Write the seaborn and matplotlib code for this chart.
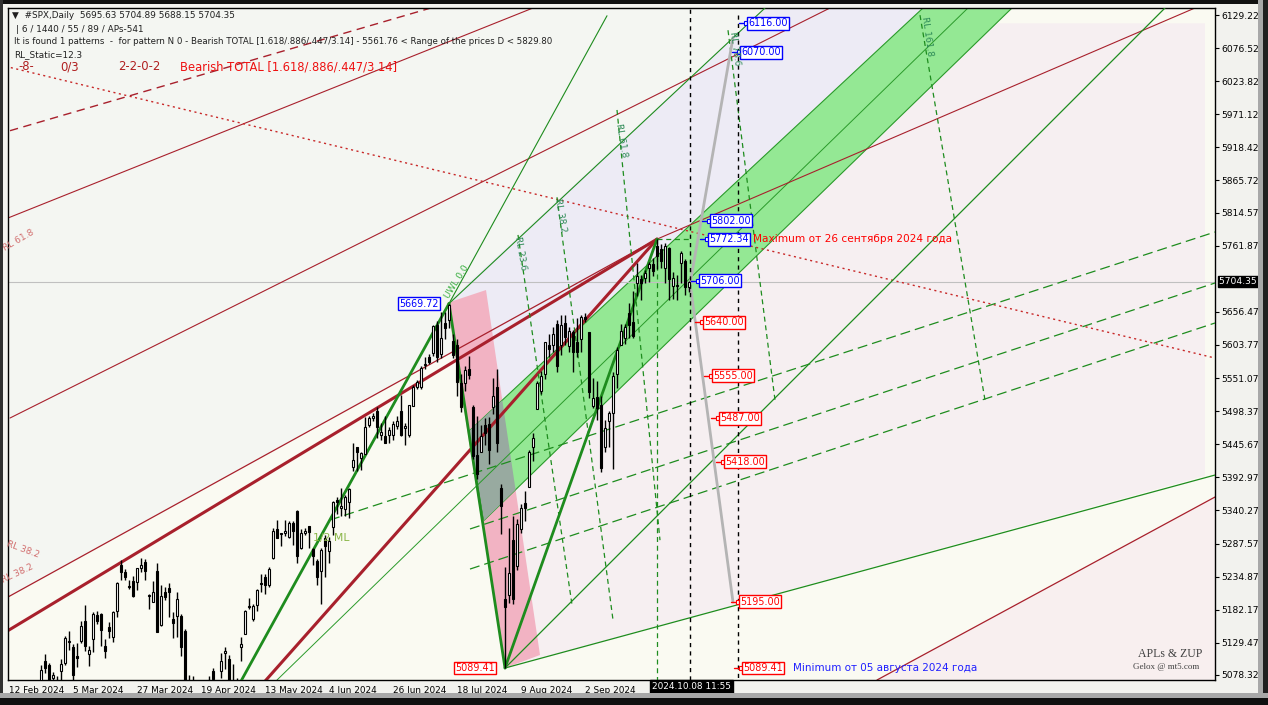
import numpy as np
import pandas as pd
import matplotlib
matplotlib.use("Agg")
import matplotlib.pyplot as plt
import seaborn as sns
from matplotlib.patches import Polygon, Rectangle

# ---------------- data ----------------
o = [5026,4967,4976,5004,5032,5006,4990,4963,5039,5100,5094,5074,5068,5085,5098,5131,5123,5109,5133,5164,
     5112,5135,5174,5175,5124,5155,5139,5181,5254,5242,5219,5228,5226,5249,5258,5204,5194,5244,5158,5211,
     5217,5167,5172,5172,5149,5064,5068,5032,5005,4988,5029,5085,5019,5084,5114,5103,5029,5050,5123,5143,
     5187,5168,5189,5225,5234,5221,5264,5310,5303,5305,5298,5320,5340,5281,5305,5316,5279,5260,5244,5297,
     5275,5314,5357,5344,5342,5353,5410,5441,5424,5430,5477,5487,5499,5460,5459,5461,5460,5474,5498,5472,
     5461,5507,5537,5537,5572,5584,5591,5636,5590,5638,5644,5610,5603,5543,5544,5565,5505,5428,5434,5477,
     5478,5505,5537,5376,5200,5206,5294,5252,5310,5352,5377,5442,5502,5530,5558,5603,5603,5637,5603,5639,
     5602,5624,5608,5613,5648,5624,5506,5521,5508,5442,5483,5496,5558,5604,5615,5655,5641,5702,5709,5711,
     5727,5733,5762,5756,5727,5758,5697,5698,5734,5737,5695.63]
h = [5048,4971,5003,5032,5039,5012,4994,4984,5094,5111,5097,5083,5077,5104,5140,5149,5127,5130,5165,5189,
     5125,5179,5180,5177,5136,5162,5180,5226,5262,5247,5229,5236,5249,5264,5263,5208,5228,5256,5222,5219,
     5225,5179,5211,5175,5151,5079,5077,5052,5019,5038,5077,5089,5058,5114,5123,5110,5096,5073,5139,5182,
     5201,5192,5215,5239,5239,5251,5312,5325,5305,5325,5324,5323,5341,5311,5312,5315,5280,5263,5280,5302,
     5298,5355,5362,5376,5365,5376,5448,5442,5433,5489,5490,5496,5505,5479,5490,5473,5483,5491,5524,5480,
     5509,5540,5548,5571,5584,5590,5636,5642,5656,5656,5669.72,5622,5614,5558,5570,5586,5509,5491,5476,5487,
     5489,5552,5566,5383,5250,5312,5331,5327,5351,5371,5436,5463,5546,5563,5609,5621,5633,5643,5651,5651,
     5632,5627,5646,5651,5655,5625,5552,5546,5522,5484,5498,5560,5600,5637,5637,5671,5689,5734,5716,5723,
     5736,5742,5772.34,5764,5766,5760,5720,5715,5754,5740,5704.89]
l = [5016,4920,4948,4999,4996,5000,4955,4946,5039,5082,5068,5058,5056,5061,5094,5118,5061,5091,5129,5117,
     5092,5115,5160,5125,5105,5138,5131,5171,5230,5229,5216,5203,5213,5243,5230,5184,5194,5146,5157,5197,
     5170,5138,5139,5108,5053,5039,5008,5000,4953,4969,5028,5047,5002,5074,5088,5035,5011,5011,5101,5143,
     5183,5164,5180,5210,5207,5219,5263,5297,5284,5300,5297,5286,5257,5279,5302,5281,5254,5222,5191,5234,
     5257,5302,5335,5331,5331,5328,5403,5403,5404,5430,5473,5482,5456,5453,5447,5447,5452,5470,5459,5445,
     5458,5507,5533,5533,5565,5574,5586,5576,5583,5613,5631,5583,5523,5497,5530,5550,5422,5390,5433,5445,
     5414,5494,5434,5303,5089.41,5193,5191,5245,5305,5324,5377,5419,5502,5526,5550,5585,5592,5560,5588,5603,
     5593,5561,5585,5593,5640,5520,5504,5485,5402,5434,5442,5406,5536,5604,5605,5615,5615,5682,5675,5703,
     5704,5714,5724,5727,5703,5675,5677,5675,5703,5683,5688.15]
c = [5022,4953,5001,5030,5006,5004,4976,4982,5087,5089,5070,5078,5070,5096,5137,5131,5079,5105,5157,5124,
     5118,5175,5165,5150,5117,5149,5179,5225,5242,5234,5218,5204,5248,5254,5244,5206,5211,5147,5204,5202,
     5210,5161,5199,5123,5062,5051,5022,5011,4967,5011,5071,5072,5048,5100,5116,5036,5018,5064,5128,5181,
     5188,5188,5214,5223,5221,5247,5308,5297,5303,5308,5321,5307,5268,5305,5308,5306,5267,5235,5278,5283,
     5291,5354,5353,5347,5361,5375,5421,5434,5432,5473,5487,5490,5473,5465,5448,5469,5478,5483,5460,5475,
     5509,5537,5545,5567,5573,5577,5634,5585,5615,5631,5667,5588,5545,5505,5564,5556,5427,5399,5459,5464,
     5436,5522,5447,5347,5186,5240,5200,5319,5344,5344,5434,5455,5543,5554,5608,5597,5621,5571,5635,5617,
     5626,5592,5592,5648,5645,5529,5520,5503,5408,5471,5496,5554,5596,5626,5633,5635,5618,5714,5703,5719,
     5733,5722,5745,5738,5762,5709,5710,5700,5751,5696,5704.35]

date_ticks = [0, 16, 32, 48, 64, 80, 96, 112, 128, 144]
date_labels = ["12 Feb 2024", "5 Mar 2024", "27 Mar 2024", "19 Apr 2024", "13 May 2024",
               "4 Jun 2024", "26 Jun 2024", "18 Jul 2024", "9 Aug 2024", "2 Sep 2024"]
price_ticks = [6129.22, 6076.52, 6023.82, 5971.12, 5918.42, 5865.72, 5814.57, 5761.87,
               5656.47, 5603.77, 5551.07, 5498.37, 5445.67, 5392.97, 5340.27, 5287.57,
               5234.87, 5182.17, 5129.47, 5078.32]
last_price = 5704.35

# target price labels (value, bar position of label, colour)
tgt_price = [6116.00, 6070.00, 5802.00, 5772.34, 5706.00, 5640.00, 5555.00, 5487.00, 5418.00, 5195.00, 5089.41]
tgt_pos = [184.75, 183.0, 175.5, 175.0, 172.75, 173.75, 176.0, 177.75, 179.0, 182.75, 183.5]
tgt_col = ["#0000ff"] * 5 + ["#ff0000"] * 6

# pattern anchor points (bar index, price)
pk1 = (110, 5669.72)   # 16 Jul high
lo1 = (124, 5089.41)   # 5 Aug low
pk2 = (162, 5772.34)   # 26 Sep high
band_x = [115.0, 228.5, 250.75, 118.75]
band_y = [5466.5, 6140.4, 6140.4, 5324.5]
mid_x = [67.0, 239.75]
mid_y = [5070.3, 6140.4]
strip_x = [109.5, 119.25, 132.75, 124.0]
strip_y = [5670.6, 5691.3, 5110.1, 5089.41]
lav_x = [109.5, 189.0, 228.5, 115.0]
lav_y = [5670.6, 6140.4, 6140.4, 5466.5]
pale_x = [-0.25, 162, 172.75, 228.5, -0.25]
pale_y = [5202.5, 5772.34, 5801, 6140.4, 6140.4]
pinkr_x = [124, 132.75, 118.75, 246.75, 299.0, 299.0]
pinkr_y = [5089.41, 5110, 5324.5, 6116, 6116, 5395.6]
pinkb_x = [217, 301.5, 301.5]
pinkb_y = [5070.34, 5361.7, 5070.34]

# ---------------- figure ----------------
sns.set_style("white")
plt.rcParams["font.family"] = ["DejaVu Sans"]
W, H = 1268, 705
fig = plt.figure(figsize=(W / 100, H / 100), dpi=100, facecolor="#f2f2ee")
ax = fig.add_axes([8 / W, 1 - 680 / H, (1215 - 8) / W, 672 / H])
ax.set_facecolor("#fafaf2")
ax.set_xlim(-0.25, 301.5)
ax.set_ylim(5070.34, 6140.37)

# soft regions
ax.add_patch(Polygon(list(zip(pale_x, pale_y)), closed=True, facecolor="#f4f6f2", edgecolor="none", zorder=0))
ax.add_patch(Polygon(list(zip(pinkr_x, pinkr_y)), closed=True, facecolor="#f6eff1", edgecolor="none", zorder=0.1))
ax.add_patch(Polygon(list(zip(pinkb_x, pinkb_y)), closed=True, facecolor="#f8efef", edgecolor="none", zorder=0.1))
ax.add_patch(Polygon(list(zip(lav_x, lav_y)), closed=True, facecolor="#edebf5", edgecolor="none", zorder=0.2))

# pink strip, green band, overlap
strip = Polygon(list(zip(strip_x, strip_y)), closed=True, facecolor="#f2b3c3", edgecolor="none", zorder=1)
ax.add_patch(strip)
band = Polygon(list(zip(band_x, band_y)), closed=True, facecolor="#94e894", edgecolor="#2a9a2a", lw=0.8, zorder=1)
ax.add_patch(band)
over = Polygon(list(zip(band_x, band_y)), closed=True, facecolor="#98aaa0", edgecolor="none", zorder=1.1)
ax.add_patch(over)
over.set_clip_path(strip)
ax.plot(mid_x, mid_y, color="#2a9a2a", lw=0.7, zorder=1.2)

# current price line
ax.axhline(last_price, color="#c0c0c0", lw=0.8, zorder=1.3)

# red lines
dr = "#a8202c"
ax.plot([-0.25, 162], [5202.5, 5772.34], color=dr, lw=0.9, zorder=2)
ax.plot([-0.25, 162], [5149, 5772.34], color=dr, lw=2.2, zorder=2)
ax.plot([56, 162], [5011, 5772.34], color=dr, lw=2.2, zorder=2)
ax.plot([162, 300], [5772.34, 6150], color=dr, lw=0.8, zorder=2)
ax.plot([0.25, 205.25], [5487.5, 6140.4], color=dr, lw=0.8, zorder=2)
ax.plot([-0.25, 131.0], [5806, 6140.4], color=dr, lw=0.8, zorder=2)
ax.plot([-2.25, 301.5], [6049.6, 5583], color="#c82828", lw=1.0, ls=(0, (1.5, 2.5)), zorder=2)
ax.plot([217, 301.5], [5070.34, 5361.7], color=dr, lw=0.9, zorder=2)
ax.plot([0.25, 105.25], [5945, 6140], color=dr, lw=1.0, ls=(0, (6, 4)), zorder=2)

# green lines
g = "#1e8c1e"
sns.lineplot(x=[48, pk1[0]], y=[4953, pk1[1]], ax=ax, color=g, lw=2.0, sort=False, estimator=None, zorder=3)
sns.lineplot(x=[pk1[0], lo1[0]], y=[pk1[1], lo1[1]], ax=ax, color=g, lw=2.0, sort=False, estimator=None, zorder=3)
sns.lineplot(x=[lo1[0], pk2[0]], y=[lo1[1], pk2[1]], ax=ax, color=g, lw=2.0, sort=False, estimator=None, zorder=3)
ax.plot([pk1[0], 149.5], [pk1[1], 6128], color=g, lw=0.8, zorder=3)
ax.plot([lo1[0], 301.5], [lo1[1], 5396.7], color=g, lw=0.9, zorder=3)
ax.plot([lo1[0], 289.0], [lo1[1], 6140.4], color=g, lw=0.9, zorder=3)
ax.plot([pk1[0], 189.0], [pk1[1], 6140.4], color=g, lw=0.8, zorder=3)
# dashed median-type lines
for (x0, y0, x1, y1) in [(80.25, 5325.1, 301.5, 5783.7), (115.25, 5310.8, 301.5, 5702.5),
                         (115.25, 5247.0, 301.5, 5638.8)]:
    ax.plot([x0, x1], [y0, y1], color=g, lw=0.9, ls=(0, (8, 4)), zorder=3)
# steep dashed RL lines
for (x0, y0, x1, y1) in [(127.25, 5779, 140.75, 5190), (137.0, 5839, 151.0, 5166),
                         (152.0, 5978, 162.75, 5293), (179.75, 6105, 191.5, 5516), (227.75, 6129, 244.0, 5516)]:
    ax.plot([x0, x1], [y0, y1], color=g, lw=0.9, ls=(0, (4, 3)), zorder=3)
ax.plot([162, 162], [5772.34, 5070.34], color=g, lw=0.9, ls=(0, (4, 3)), zorder=3)
ax.plot([162, 170.25], [5772.34, 5772.34], color=g, lw=0.9, ls=(0, (4, 3)), zorder=3)

# projection lines
ax.plot([170, 181], [5691.4, 6093.4], color="#b4b4b4", lw=2, zorder=3)
ax.plot([170.5, 181], [5691.4, 5194.5], color="#b4b4b4", lw=2, zorder=3)
ax.axvline(170.25, color="black", lw=1, ls=(0, (3, 3)), zorder=3)
ax.plot([182.25, 182.25], [6129, 5070.34], color="black", lw=1, ls=(0, (3, 3)), zorder=3)

# ---------------- candles ----------------
df = pd.DataFrame({"o": o, "h": h, "l": l, "c": c})
df["i"] = np.arange(len(df))
up = df["c"] >= df["o"]
ax.vlines(df["i"], df["l"], df["h"], color="black", lw=1.0, zorder=4)
body = (df["c"] - df["o"]).abs().clip(lower=1.5)
ax.bar(df["i"][up], body[up], bottom=df["o"][up], width=0.7, facecolor="white", edgecolor="black", lw=0.8, zorder=5)
ax.bar(df["i"][~up], body[~up], bottom=df["c"][~up], width=0.7, facecolor="black", edgecolor="black", lw=0.8, zorder=5)

# ---------------- price labels ----------------
for p, x, col in zip(tgt_price, tgt_pos, tgt_col):
    ax.plot([x - 2.2, x - 0.6], [p, p], color=col, lw=1, zorder=6)
    ax.plot([x - 0.5], [p], marker="s", ms=3, mfc="white", mec=col, mew=0.8, zorder=6)
    ax.text(x, p, f"{p:.2f}", color=col, fontsize=6.9, va="center", ha="left", zorder=7,
            bbox=dict(boxstyle="square,pad=0.15", fc="white", ec=col, lw=1))
ax.text(186.0, 5772.34, "Maximum от 26 сентября 2024 года", color="#ff0000", fontsize=7.6, va="center", ha="left", zorder=7)
ax.text(196.0, 5089.41, "Minimum от 05 августа 2024 года", color="#2020ff", fontsize=7.5, va="center", ha="left", zorder=7)
ax.text(107.5, 5669.72, "5669.72", color="#0000ff", fontsize=6.9, va="center", ha="right", zorder=7,
        bbox=dict(boxstyle="square,pad=0.15", fc="white", ec="#0000ff", lw=1))
ax.text(121.5, 5089.41, "5089.41", color="#ff0000", fontsize=6.9, va="center", ha="right", zorder=7,
        bbox=dict(boxstyle="square,pad=0.15", fc="white", ec="#ff0000", lw=1))

# rotated level captions
cap = [(112.0, 5705, "UWL 0.0", 58, "#3cb043", 6.5), (80.5, 5297, "1/2 ML", 0, "#8ab648", 7.8),
       (127.75, 5750, "RL 23.6", -80, "#2e8b57", 6.5), (137.75, 5810, "RL 38.2", -80, "#2e8b57", 6.5),
       (153.0, 5930, "RL 61.8", -80, "#2e8b57", 6.5), (181.5, 6075, "RL 78.6", -82, "#2e8b57", 6.5),
       (229.5, 6095, "RL 161.8", -82, "#2e8b57", 6.5), (3.5, 5278, "RL 38.2", -20, "#d27070", 6.5),
       (2.0, 5240, "RL 38.2", 25, "#d27070", 6.5), (2.5, 5770, "RL 61.8", 30, "#d27070", 6.5)]
for x, y, t, r, col, fs in cap:
    ax.text(x, y, t, rotation=r, color=col, fontsize=fs, ha="center", va="center", zorder=7)

# ---------------- axes styling ----------------
ax.yaxis.tick_right()
ax.set_yticks(price_ticks)
ax.set_yticklabels([f"{v:.2f}" for v in price_ticks], fontsize=6.6)
ax.set_xticks(date_ticks)
ax.set_xticklabels(date_labels, fontsize=6.4, ha="left")
ax.tick_params(axis="both", direction="out", length=3, width=0.8, colors="black", pad=1.5)
for s in ax.spines.values():
    s.set_color("black")
    s.set_linewidth(1)
ax.text(1.0035, last_price, "5704.35 ", transform=ax.get_yaxis_transform(), fontsize=6.6, color="white",
        va="center", ha="left", bbox=dict(boxstyle="square,pad=0.12", fc="black", ec="black"), zorder=8)
ax.text(160.75, -0.0095, "2024.10.08 11:55", transform=ax.get_xaxis_transform(), fontsize=6.4,
        color="white", va="center", ha="left", bbox=dict(boxstyle="square,pad=0.2", fc="black", ec="black"))

# top-left info text
def ftxt(x, y, s, **kw):
    fig.text(x / W, 1 - y / H, s, va="center", ha="left", **kw)

ftxt(12, 16, "▼  #SPX,Daily  5695.63 5704.89 5688.15 5704.35", fontsize=6.4, color="#202020")
ftxt(16, 29, "| 6 / 1440 / 55 / 89 / APs-541", fontsize=6.4, color="#202020")
ftxt(14, 42, "It is found 1 patterns  -  for pattern N 0 - Bearish TOTAL [1.618/.886/.447/3.14] - 5561.76 < Range of the prices D < 5829.80",
     fontsize=6.2, color="#202020")
ftxt(14, 55, "RL_Static=12.3", fontsize=6.4, color="#202020")
ftxt(18, 67, "-8-", fontsize=8.4, color="#b02020")
ftxt(60, 67, "0/3", fontsize=8.4, color="#b02020")
ftxt(118, 67, "2-2-0-2", fontsize=8.4, color="#b02020")
ftxt(180, 67, "Bearish TOTAL [1.618/.886/.447/3.14]", fontsize=8.3, color="#ee1111")
fig.text(1138 / W, 1 - 654 / H, "APLs & ZUP", fontsize=8.5, color="#404040", family="Liberation Serif", va="center")
fig.text(1133 / W, 1 - 667 / H, "Gelox @ mt5.com", fontsize=6.5, color="#404040", family="Liberation Serif", va="center")

# frame
def frect(x0, y0, x1, y1, col):
    fig.add_artist(Rectangle((x0 / W, 1 - y1 / H), (x1 - x0) / W, (y1 - y0) / H,
                             transform=fig.transFigure, facecolor=col, edgecolor="none", zorder=10))

frect(0, 0, W, 4, "#101010")
frect(0, 0, 3, H, "#303030")
frect(1258, 0, 1263, H, "#a8a8a8")
frect(1263, 0, W, H, "#202020")
frect(0, 693, W, 698, "#a8a8a8")
frect(0, 698, W, H, "#101010")

fig.savefig("out.png", dpi=100, facecolor=fig.get_facecolor())
